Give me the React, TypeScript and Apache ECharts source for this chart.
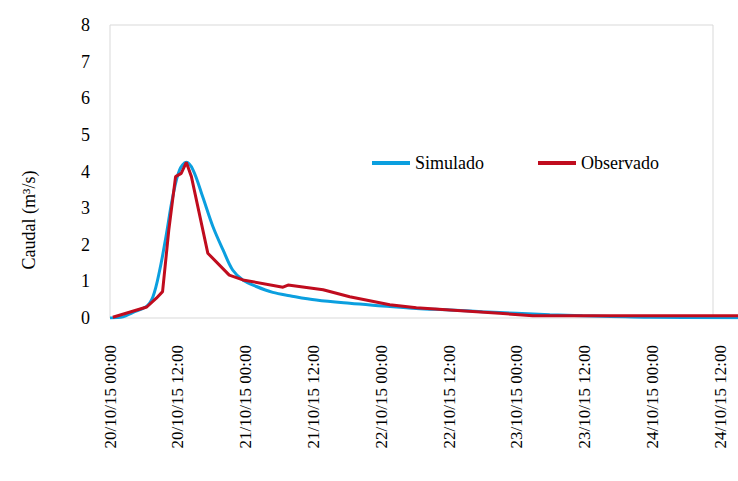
import React, { useEffect, useRef } from "react";
import * as echarts from "echarts";

const START = { day: 20, month: 10, year: 15 };
const X_MAX_HOURS = 111.1;
const Y_TICKS_MAX = 8;

const simHours = [0, 2.3, 4, 6.4, 7.6, 8.8, 9.9, 11.1, 12.3, 13.5, 14.7, 16.4, 18.2, 20.0, 21.7, 23.5, 25.9, 28.8, 31.8, 36.5, 42.4, 48.2, 54.2, 60.1, 65.9, 71.9, 77.8, 83.6, 95.5, 111.1];
const simValues = [0.0, 0.03, 0.15, 0.31, 0.58, 1.31, 2.22, 3.31, 4.04, 4.25, 4.04, 3.31, 2.5, 1.86, 1.31, 1.04, 0.86, 0.7, 0.61, 0.49, 0.4, 0.33, 0.26, 0.22, 0.17, 0.13, 0.09, 0.06, 0.02, 0.01];

const obsHours = [0.5, 6.5, 8.2, 9.3, 10.4, 11.6, 12.6, 13.5, 14.4, 17.3, 21.1, 23.5, 30.6, 31.5, 37.7, 42.4, 49.5, 54.2, 60.1, 68.9, 74.8, 111.1];
const obsValues = [0.02, 0.3, 0.54, 0.72, 2.4, 3.86, 3.95, 4.25, 3.86, 1.77, 1.17, 1.04, 0.84, 0.9, 0.77, 0.58, 0.36, 0.28, 0.22, 0.13, 0.06, 0.06];

const seriesNames = ["Simulado", "Observado"];
const yAxisTitle = "Caudal (m³/s)";

const pad = (n: number) => (n < 10 ? "0" + n : "" + n);
function hourLabel(h: number): string {
  const total = Math.round(h);
  const d = START.day + Math.floor(total / 24);
  const hh = total % 24;
  return `${d}/${START.month}/${START.year} ${pad(hh)}:00`;
}

const FONT = "'Liberation Serif', 'Times New Roman', serif";
const BLUE = "#0B9FDF";
const RED = "#C00C1E";

export default function App() {
  const ref = useRef<HTMLDivElement>(null);
  useEffect(() => {
    document.body.style.margin = "0";
    if (!ref.current) return;
    const chart = echarts.init(ref.current, null, { renderer: "svg" });
    chart.setOption({
      animation: false,
      backgroundColor: "#ffffff",
      grid: [
        { left: 110, right: 0, top: 25, bottom: 163, show: false },
        { left: 110, right: 25, top: 25, bottom: 163, show: true, borderColor: "#d9d9d9", borderWidth: 1, backgroundColor: "transparent", z: 0 },
      ],
      legend: {
        data: [
          { name: seriesNames[0], icon: "rect", itemStyle: { color: BLUE } },
          { name: seriesNames[1], icon: "rect", itemStyle: { color: RED } },
        ],
        left: 367,
        top: 149,
        itemWidth: 38,
        itemHeight: 4,
        itemGap: 54,
        textStyle: { fontFamily: FONT, fontSize: 18, color: "#000" },
      },
      xAxis: [
        {
          type: "value",
          gridIndex: 0,
          min: 0,
          max: X_MAX_HOURS,
          interval: 12,
          axisLine: { show: false },
          axisTick: { show: false },
          splitLine: { show: false },
          axisLabel: {
            rotate: 90,
            margin: 27,
            showMaxLabel: false,
            fontFamily: FONT,
            fontSize: 17,
            color: "#000",
            formatter: (v: number) => hourLabel(v),
          },
        },
        { type: "value", gridIndex: 1, show: false, min: 0, max: 1 },
      ],
      yAxis: [
        {
          type: "value",
          gridIndex: 0,
          min: 0,
          max: Y_TICKS_MAX,
          interval: 1,
          axisLine: { show: false },
          axisTick: { show: false },
          splitLine: { show: false },
          axisLabel: { margin: 20, fontFamily: FONT, fontSize: 18, color: "#000" },
        },
        { type: "value", gridIndex: 1, show: false, min: 0, max: 1 },
      ],
      graphic: [
        {
          type: "text",
          x: 29,
          y: 220,
          rotation: Math.PI / 2,
          style: {
            text: yAxisTitle,
            fontFamily: FONT,
            fontSize: 18,
            fill: "#000",
            textAlign: "center",
            textVerticalAlign: "middle",
          },
        },
      ],
      series: [
        {
          name: seriesNames[0],
          type: "line",
          xAxisIndex: 0,
          yAxisIndex: 0,
          data: simHours.map((h, i) => [h, simValues[i]]),
          smooth: 0.35,
          symbol: "none",
          lineStyle: { color: BLUE, width: 3 },
          itemStyle: { color: BLUE },
          z: 2,
        },
        {
          name: seriesNames[1],
          type: "line",
          xAxisIndex: 0,
          yAxisIndex: 0,
          data: obsHours.map((h, i) => [h, obsValues[i]]),
          symbol: "none",
          lineStyle: { color: RED, width: 3 },
          itemStyle: { color: RED },
          z: 3,
        },
      ],
    });
    return () => chart.dispose();
  }, []);
  return <div ref={ref} style={{ width: 738, height: 481 }} />;
}
